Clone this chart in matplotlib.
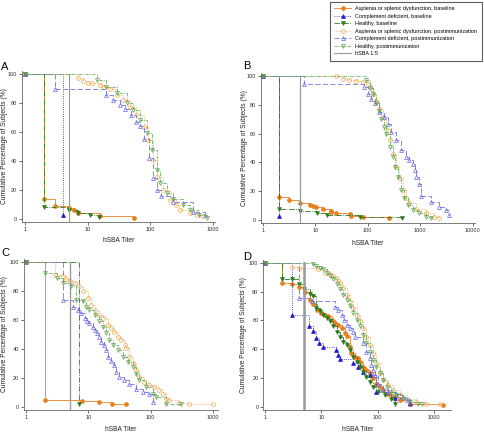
import matplotlib
matplotlib.use("Agg")
import matplotlib.pyplot as plt
from matplotlib.ticker import FixedLocator, NullLocator

plt.rcParams['font.family'] = ['Liberation Sans', 'DejaVu Sans']

# reverse cumulative curves, (hSBA titer, % of subjects)
A_asp_base = [(1, 100), (2, 14), (3, 9), (5, 8), (6, 6), (7, 4.5), (16, 2.3), (54, 1.1)]
A_comp_base = [(1, 100), (4, 3)]
A_heal_base = [(1, 100), (2, 8.5), (5, 6.5), (7, 4), (11, 3), (15, 1.5)]
A_asp_post = [(1, 100), (7, 97), (8.6, 95), (10.3, 94), (11.6, 93.5), (15.8, 92.4), (18, 91),
              (23, 89.4), (29, 85.5), (37, 82), (47, 77.5), (60, 71.7), (78, 63.7), (93, 54.5),
              (112, 40.7), (126, 29), (160, 20), (205, 13), (260, 9.6), (295, 6.2), (420, 4.4),
              (560, 2.8), (700, 2)]
A_comp_post = [(1, 100), (3, 89.4), (19.6, 85.5), (25, 82), (33, 78.6), (39.5, 76), (50, 71.7),
               (60, 67), (68, 64), (80, 55), (95, 42), (110, 28), (126, 20), (150, 16),
               (230, 12), (480, 5), (750, 3)]
A_heal_post = [(1, 100), (14, 96), (20, 91), (29, 87), (42, 80), (53, 75), (68, 68), (88, 59),
               (105, 47.6), (126, 34), (142, 24.6), (182, 17.7), (232, 14), (330, 10), (420, 6),
               (600, 3), (790, 1)]

B_asp_base = [(1, 100), (2, 15.9), (3.1, 13.6), (5, 11.8), (8, 10.8), (9, 10), (10.4, 9.2),
              (14, 7.9), (19.5, 6.5), (20, 5.5), (25, 5), (45, 3.9), (48, 3), (80, 2.3), (250, 1.4)]
B_comp_base = [(1, 100), (2, 3)]
B_heal_base = [(1, 100), (2, 7.4), (5, 6), (11, 4.6), (17, 3.7), (70, 2.3), (450, 1.2)]
B_asp_post = [(1, 100), (25, 99.8), (33, 98), (44, 97), (60, 96.5), (80, 95.8), (100, 94.7),
              (116, 91), (124, 87.8), (144, 83), (167, 77), (194, 71.6), (223, 63.5), (260, 55.4),
              (300, 46), (350, 37), (400, 28.9), (465, 20.8), (540, 15), (620, 11.5), (830, 8),
              (1300, 4.6), (1850, 2.3), (2300, 1.2)]
B_comp_post = [(1, 100), (6, 94.7), (86, 92.4), (100, 87.8), (116, 84), (140, 81), (167, 75),
               (208, 71.6), (240, 67), (280, 61), (350, 55.4), (430, 48.5), (540, 43.9),
               (620, 41.6), (720, 39), (780, 34.6), (830, 30), (960, 25), (1040, 17),
               (1600, 12.7), (2300, 9), (3100, 7), (3600, 3.4)]
B_heal_post = [(1, 100), (93, 97), (108, 92), (124, 87.8), (144, 81), (162, 76), (180, 70),
               (200, 64.7), (223, 60), (260, 50.8), (300, 43.9), (336, 37), (375, 30),
               (430, 20.8), (500, 15), (580, 10.4), (720, 6.9), (960, 4.6), (1300, 2.3), (1600, 1.2)]

C_asp_base = [(1, 100), (2, 5), (8, 4.2), (15, 3.5), (24, 2.3), (40, 1.8)]
C_comp_base = []
C_heal_base = [(1, 100), (7, 2.3)]
C_asp_post = [(1, 100), (2.9, 91), (3.9, 90), (4.4, 87.8), (5, 86.6), (6, 85.5), (7.2, 83),
              (8.2, 79.7), (9.9, 75), (11.1, 70.4), (12.6, 67), (15, 63.5), (17, 61),
              (20.6, 56.6), (23, 54.3), (26, 52), (29.6, 48.5), (33.5, 46), (38, 42.7),
              (40, 40.4), (45, 34.6), (51, 30), (58, 25.4), (65, 20.8), (78, 17.3), (95, 15),
              (113, 13.9), (137, 11.5), (155, 9.2), (175, 5.8), (198, 4.6), (280, 2.8),
              (410, 1.8), (1000, 1.8)]
C_comp_post = [(1, 100), (3.9, 73.4), (5.7, 69), (6.8, 67), (7.7, 64.7), (8.7, 61), (9.5, 59),
               (10.4, 57.7), (11.8, 55.4), (12.6, 53), (13.7, 50.8), (14.7, 48.5), (16, 45),
               (17.7, 42.7), (19.3, 39), (20.5, 34.6), (23, 32), (26, 29), (28, 24), (31, 20.8),
               (37.5, 18.5), (45, 16), (58, 12.7), (74, 10.4), (95, 9.2), (110, 3.5)]
C_heal_post = [(1, 100), (2, 92.4), (3.1, 88.9), (3.9, 85.5), (5.3, 83), (6.3, 74), (8.2, 72.7),
               (9.2, 69), (10.4, 67), (12.6, 63.5), (15, 59), (17, 55.4), (19.3, 50.8),
               (21.8, 46), (24.5, 42.7), (29.6, 39), (35.5, 34.6), (42.5, 31), (51, 27.7),
               (58, 23), (65, 18.5), (83, 13.9), (107, 9.2), (121, 6.9), (175, 2.3), (300, 1.8)]

D_asp_base = [(1, 100), (2, 86), (3, 85), (4, 83.3), (5.1, 79.5), (6.4, 74.4), (7.2, 71.6),
              (8.4, 67.4), (10, 65), (11.5, 64), (13.3, 62.8), (15.2, 60.5), (17.4, 58), (20, 57),
              (22.8, 54.7), (26, 51), (28, 49.3), (32, 41.9), (34, 37.2), (39, 34.9), (45, 33.7),
              (48, 31.4), (55, 27.9), (63, 25.6), (72, 23.3), (83, 19.8), (95, 16.3), (108, 14),
              (125, 11.6), (153, 9.3), (188, 7), (245, 4.7), (370, 2.3), (1450, 1.2)]
D_comp_base = [(1, 100), (3, 64), (6, 55.8), (7, 53), (8, 47.7), (9, 44.7), (10.8, 41.9),
               (18, 39.5), (20, 36), (21.3, 33.3), (36.7, 30.7), (45, 27.9), (55, 24.4),
               (72, 22), (95, 10.5), (200, 6), (370, 3)]
D_heal_base = [(1, 100), (2, 88.8), (3, 88.4), (4, 85), (5, 81.4), (6.3, 78.4), (7.2, 77.2),
               (8, 68.6), (9.4, 66.3), (10.8, 64), (12.4, 61.6), (14.2, 59.3), (16.2, 55.8),
               (18.6, 52.3), (21.3, 48.8), (24.4, 45.3), (28, 43), (32, 39.5), (36.7, 34.9),
               (42, 31.4), (48, 27.9), (55, 24.4), (63, 20.9), (72, 17.4), (83, 14), (101, 10.5),
               (133, 8.1), (175, 5.8), (200, 2.3)]
D_asp_post = [(1, 100), (3, 97), (4, 96.5), (8.8, 95.3), (11.6, 93), (14.2, 91.9), (16.2, 90.7),
              (18.6, 88.4), (21.3, 86), (24.4, 82.6), (28, 77.9), (32, 73.3), (36.7, 68.6),
              (42, 64), (48, 59.3), (55, 54.7), (63, 48.8), (72, 43), (83, 37.2), (95, 30.2),
              (108, 23.3), (125, 18.6), (153, 15.1), (188, 11.6), (245, 8.1), (325, 5.8),
              (485, 3.5), (730, 2.3), (1250, 1.8)]
D_comp_post = [(1, 100), (4, 75.6), (6.7, 73.3), (17.4, 69.3), (20, 67.4), (22.8, 64), (25, 60.5),
               (28, 57), (32, 54.7), (36.7, 52.3), (39, 48.8), (55, 44.2), (63, 38.4), (72, 33.7),
               (77, 29), (83, 25.6), (89, 22), (101, 16.3), (125, 12.8), (153, 10.5), (215, 8.8),
               (282, 7), (325, 4.7), (370, 2.3)]
D_heal_post = [(1, 100), (7, 99.3), (8, 98), (9.4, 96.5), (10.8, 95.3), (12.4, 93), (14.2, 90.7),
               (16.2, 88.4), (18.6, 84.9), (21.3, 81.4), (24.4, 77.9), (28, 74.4), (32, 69.8),
               (36.7, 65), (42, 60.5), (48, 55.8), (55, 50), (63, 44.2), (72, 38.4), (83, 32.6),
               (95, 27.9), (108, 23.3), (125, 18.6), (143, 14), (175, 10.5), (215, 8.1),
               (282, 5.8), (370, 3.5), (520, 2.3), (600, 1.8)]

SERIES_LABELS = ['Asplenia or splenic dysfunction, baseline', 'Complement deficient, baseline',
                 'Healthy, baseline', 'Asplenia or splenic dysfunction, postimmunization',
                 'Complement deficient, postimmunization', 'Healthy, postimmunization']
HSBA_LABEL = 'hSBA 1:5'
HSBA_CUTOFF = 5
PANEL_LETTERS = ['A', 'B', 'C', 'D']
Y_TICKS = [0, 20, 40, 60, 80, 100]

panels = {
    'A': [A_asp_base, A_comp_base, A_heal_base, A_asp_post, A_comp_post, A_heal_post],
    'B': [B_asp_base, B_comp_base, B_heal_base, B_asp_post, B_comp_post, B_heal_post],
    'C': [C_asp_base, C_comp_base, C_heal_base, C_asp_post, C_comp_post, C_heal_post],
    'D': [D_asp_base, D_comp_base, D_heal_base, D_asp_post, D_comp_post, D_heal_post],
}

styles = [
    dict(color='#e8801e', ls='-', marker='o', mfc='#e8801e', mec='#e8801e'),
    dict(color='#1a1ac8', ls=':', marker='^', mfc='#1a1ac8', mec='#1a1ac8'),
    dict(color='#2e7a1e', ls='-.', marker='v', mfc='#2e7a1e', mec='#2e7a1e'),
    dict(color='#f0b46e', ls=(0, (1, 1)), marker='o', mfc='none', mec='#f0a850'),
    dict(color='#7272e6', ls=(0, (6, 3)), marker='^', mfc='none', mec='#6a6ae6'),
    dict(color='#6aae5a', ls=(0, (4, 1.5, 1, 1.5)), marker='v', mfc='none', mec='#5aa04a'),
]

# axes rects (fig fraction) and x extents, from the reference layout
rects = {'A': [0.0455, 0.493, 0.399, 0.345], 'B': [0.539, 0.491, 0.442, 0.342],
         'C': [0.0496, 0.064, 0.401, 0.345], 'D': [0.544, 0.064, 0.388, 0.343]}
xlims = {'A': (0.905, 1075), 'B': (0.916, 11000), 'C': (0.93, 1200), 'D': (0.933, 2000)}
xticks = {'A': [1, 10, 100, 1000], 'B': [1, 10, 100, 1000, 10000],
          'C': [1, 10, 100, 1000], 'D': [1, 10, 100, 1000]}
ylab_x = {'A': -0.075, 'B': -0.058, 'C': -0.085, 'D': -0.085}
xlab_y = {'A': -0.10, 'B': -0.115, 'C': -0.105, 'D': -0.105}
cut_width = {'A': 1.1, 'B': 0.9, 'C': 1.0, 'D': 1.8}
letter_pos = {'A': (0.002, 0.847), 'B': (0.502, 0.849), 'C': (0.002, 0.422), 'D': (0.502, 0.413)}

fig = plt.figure(figsize=(4.84, 4.38), dpi=100)
handles = None

for key in PANEL_LETTERS:
    ax = fig.add_axes(rects[key])
    lines = []
    for data, st in zip(panels[key], styles):
        if not data:
            continue
        xs = [p[0] for p in data]
        ys = [p[1] for p in data]
        ln, = ax.plot(xs, ys, drawstyle='steps-post', lw=0.6, ms=2.8, mew=0.5, **st)
        lines.append(ln)
    ax.set_xscale('log')
    ax.set_xlim(*xlims[key])
    ax.set_ylim(-2, 102)
    cut, = ax.plot([HSBA_CUTOFF, HSBA_CUTOFF], [ax.get_ylim()[0], 100], color='#999999',
                   lw=cut_width[key])
    if key == 'A':
        handles = lines + [cut]

    ax.xaxis.set_major_locator(FixedLocator(xticks[key]))
    ax.xaxis.set_minor_locator(NullLocator())
    ax.set_xticklabels([str(t) for t in xticks[key]])
    ax.set_yticks(Y_TICKS)
    for s in ('top', 'right'):
        ax.spines[s].set_visible(False)
    for s in ('left', 'bottom'):
        ax.spines[s].set_color('#666666')
        ax.spines[s].set_linewidth(0.6)
    ax.tick_params(length=2, width=0.5, pad=1.5, labelsize=4, colors='#333333')
    ax.set_xlabel('hSBA Titer', fontsize=4.8, color='#222222')
    ax.xaxis.set_label_coords(0.5, xlab_y[key])
    ax.set_ylabel('Cumulative Percentage of Subjects (%)', fontsize=4.8, color='#222222')
    ax.yaxis.set_label_coords(ylab_x[key], 0.5)
    fig.text(letter_pos[key][0], letter_pos[key][1], key, fontsize=8, ha='left', va='center')

handles[-1].set_linewidth(0.8)
leg = fig.legend(handles, SERIES_LABELS + [HSBA_LABEL], loc='upper right',
                 bbox_to_anchor=(0.996, 0.996), fontsize=4, frameon=True, fancybox=False,
                 handlelength=3.0, labelspacing=0.45, borderpad=0.8, handletextpad=0.8,
                 borderaxespad=0)
leg.get_frame().set_edgecolor('#333333')
leg.get_frame().set_linewidth(0.8)

fig.savefig('out.png', dpi=100)
